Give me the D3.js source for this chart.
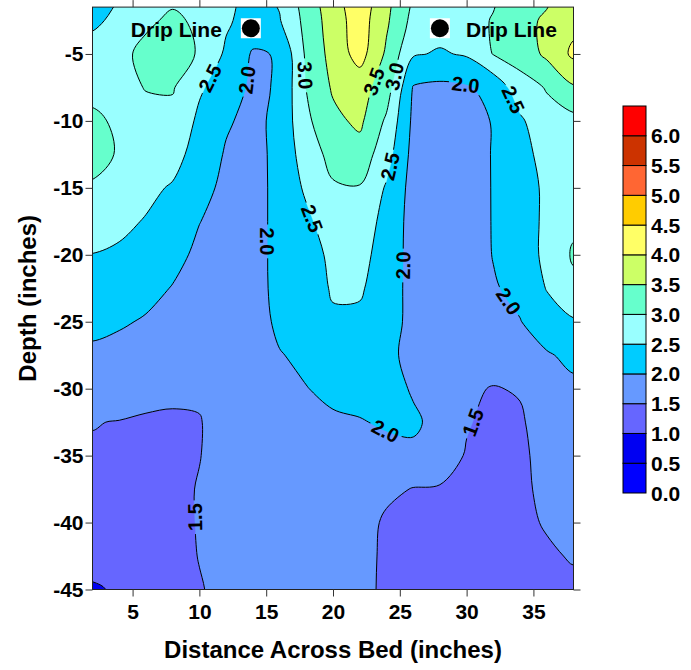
<!DOCTYPE html>
<html><head><meta charset="utf-8">
<script src="https://cdn.jsdelivr.net/npm/d3@7"></script>
<style>body{margin:0;background:#fff}svg{display:block}</style>
</head><body>
<svg id="chart" width="691" height="670"></svg>
<script>
// ---- data (grid of estimated values; columns = distance, rows = depth) ----
const distances = [0,2,4,6,8,10,12,14,16,18,20,22,24,26,28,30,32,34,36,38,40];
const depths = [0,-2.5,-5,-7.5,-10,-12.5,-15,-17.5,-20,-22.5,-25,-27.5,-30,-32.5,-35,-37.5,-40,-42.5,-45,-47.5];
const row_0    = [2.15,2.2,2.45,2.6,2.8,2.75,2.6,2.35,2.6,3.2,3.8,4.3,3.65,2.9,2.75,2.75,2.85,3.3,3.3,3.75,3.75];
const row_2_5  = [2.35,2.42,2.6,2.9,3.1,2.9,2.57,2.3,2.47,3.15,3.75,4.25,3.58,2.85,2.72,2.72,3.05,3.3,3.6,3.85,3.9];
const row_5    = [2.6,2.67,2.85,3.15,3.25,2.95,2.42,1.95,2.03,3.08,3.68,4.2,3.42,2.55,2.45,2.55,3.02,3.2,3.6,4.1,4.15];
const row_7_5  = [2.85,2.88,2.85,3.02,3.04,2.56,2.28,1.9,2.05,3.01,3.56,3.7,3.25,1.97,1.9,1.95,2.15,2.8,3.03,3.45,3.48];
const row_10   = [3.1,3.08,2.93,2.85,2.85,2.41,2.05,1.88,2.12,2.9,3.38,3.6,2.92,1.9,1.8,1.8,2.03,2.42,2.85,2.85,2.85];
const row_12_5 = [3.15,3.12,2.97,2.8,2.7,2.27,1.96,1.86,2.12,2.75,3.15,3.3,2.7,1.85,1.76,1.75,2.03,2.3,2.7,2.8,2.8];
const row_15   = [2.98,2.96,2.85,2.62,2.45,2.14,1.9,1.85,2.12,2.58,2.95,2.97,2.45,1.82,1.75,1.72,2.03,2.25,2.6,2.85,2.85];
const row_17_5 = [2.75,2.73,2.61,2.47,2.29,2.01,1.85,1.85,2.12,2.4,2.78,2.8,2.33,1.82,1.75,1.7,2.03,2.25,2.6,2.9,2.9];
const row_20   = [2.48,2.49,2.43,2.3,2.13,1.91,1.82,1.85,2.12,2.25,2.63,2.65,2.3,1.82,1.75,1.7,2.02,2.22,2.62,3.06,3.08];
const row_22_5 = [2.3,2.31,2.24,2.13,1.98,1.82,1.8,1.84,2.12,2.2,2.56,2.55,2.28,1.82,1.75,1.68,1.95,2.15,2.52,2.88,2.9];
const row_25   = [2.1,2.11,2.05,1.96,1.84,1.74,1.77,1.82,2.08,2.15,2.42,2.42,2.27,1.82,1.75,1.65,1.85,1.98,2.3,2.45,2.45];
const row_27_5 = [1.9,1.92,1.86,1.78,1.7,1.65,1.74,1.8,1.98,2.08,2.25,2.3,2.15,1.82,1.77,1.62,1.7,1.85,1.95,2.12,2.1];
const row_30   = [1.7,1.71,1.67,1.61,1.56,1.56,1.7,1.77,1.9,1.99,2.08,2.18,2.2,1.95,1.8,1.56,1.48,1.53,1.8,1.9,1.88];
const row_32_5 = [1.49,1.51,1.49,1.46,1.46,1.48,1.67,1.73,1.85,1.9,1.95,1.97,2.06,2.08,1.85,1.53,1.4,1.45,1.7,1.8,1.78];
const row_35   = [1.45,1.47,1.46,1.43,1.43,1.49,1.64,1.7,1.8,1.85,1.85,1.88,1.84,1.9,1.7,1.47,1.35,1.43,1.62,1.72,1.7];
const row_37_5 = [1.41,1.43,1.44,1.41,1.41,1.52,1.62,1.67,1.76,1.8,1.8,1.78,1.61,1.48,1.47,1.4,1.3,1.43,1.58,1.65,1.63];
const row_40   = [1.37,1.39,1.41,1.39,1.4,1.52,1.6,1.65,1.73,1.77,1.77,1.72,1.42,1.36,1.35,1.36,1.28,1.42,1.53,1.58,1.56];
const row_42_5 = [1.3,1.33,1.35,1.38,1.39,1.51,1.59,1.63,1.71,1.75,1.75,1.72,1.38,1.3,1.3,1.33,1.25,1.4,1.45,1.53,1.51];
const row_45   = [0.8,0.9,1.1,1.35,1.37,1.48,1.58,1.62,1.69,1.73,1.74,1.72,1.36,1.28,1.27,1.3,1.22,1.38,1.4,1.42,1.4];
const row_47_5 = [0.7,0.8,1.05,1.32,1.35,1.47,1.57,1.6,1.68,1.72,1.73,1.72,1.35,1.27,1.25,1.28,1.2,1.37,1.38,1.38,1.36];

const levels = [0.5,1.0,1.5,2.0,2.5,3.0,3.5,4.0,4.5,5.0,5.5,6.0];
const bandColors = ["#0000ff","#0000f2","#6666ff","#6699ff","#00ccff","#99ffff","#66ffcc","#ccff66","#ffff66","#ffcc00","#ff6633","#cc3300","#ff0000"];
const xTicks = [5,10,15,20,25,30,35];
const yTicks = [-5,-10,-15,-20,-25,-30,-35,-40,-45];
const colorbarTicks = [0,0.5,1,1.5,2,2.5,3,3.5,4,4.5,5,5.5,6];
const dripLines = [13.85, 28];
const dripDepth = -3.08;
const labelValues = [2.5,2.0,3.0,3.5,3.0,2.0,2.5,2.5,2.5,2.0,2.0,2.0,2.0,1.5,1.5];
const labelX      = [10.8,13.6,17.9,23.2,24.3,29.9,33.5,23.9,18.4,15.0,25.0,33.25,23.7,30.4,9.8];
const labelY      = [-6.8,-6.95,-6.6,-7.1,-6.6,-7.5,-8.4,-13.3,-17.3,-19.0,-20.8,-23.4,-33.6,-32.5,-39.6];
const labelAngle  = [-65,-80,85,-75,-70,15,60,-75,70,90,-90,50,40,-75,-90];

// ---- layout ----
const W = 691, H = 670;
const FONT = "'Liberation Sans', Arial, Helvetica, sans-serif";
const plot = {left: 92.5, right: 573.5, top: 7.1, bottom: 589.5};
const x = d3.scaleLinear().domain([2, 38]).range([plot.left, plot.right]);
const y = d3.scaleLinear().domain([-1.5, -45]).range([plot.top, plot.bottom]);

const svg = d3.select("#chart");
const defs = svg.append("defs");
defs.append("clipPath").attr("id", "clip").append("rect")
  .attr("x", plot.left).attr("y", plot.top)
  .attr("width", plot.right - plot.left).attr("height", plot.bottom - plot.top);
const mask = defs.append("mask").attr("id", "labelMask").attr("maskUnits", "userSpaceOnUse")
  .attr("x", 0).attr("y", 0).attr("width", W).attr("height", H);
mask.append("rect").attr("width", W).attr("height", H).attr("fill", "white");

// ---- contours ----
const grid = [row_0,row_2_5,row_5,row_7_5,row_10,row_12_5,row_15,row_17_5,row_20,row_22_5,row_25,
              row_27_5,row_30,row_32_5,row_35,row_37_5,row_40,row_42_5,row_45,row_47_5];
const nx = distances.length, ny = depths.length;
const values = grid.flat();
const gx = d3.scaleLinear().domain([0.5, nx - 0.5]).range([distances[0], distances[nx - 1]]);
const gy = d3.scaleLinear().domain([0.5, ny - 0.5]).range([depths[0], depths[ny - 1]]);
const toPx = p => [x(gx(p[0])), y(gy(p[1]))];
const contours = d3.contours().size([nx, ny]).thresholds(levels)(values);
const lineGen = d3.line().curve(d3.curveCatmullRomClosed.alpha(0.5));
function ringsPx(c) {
  const rings = [];
  c.coordinates.forEach(poly => poly.forEach(ring => rings.push(ring.slice(0, -1).map(toPx))));
  return rings;
}
const ringsByLevel = contours.map(ringsPx);
const pathD = rings => rings.map(r => lineGen(r)).join("");

const fillG = svg.append("g").attr("clip-path", "url(#clip)");
fillG.append("rect").attr("x", plot.left).attr("y", plot.top)
  .attr("width", plot.right - plot.left).attr("height", plot.bottom - plot.top)
  .attr("fill", bandColors[0]);
ringsByLevel.forEach((rings, i) => {
  if (!rings.length) return;
  fillG.append("path").attr("d", pathD(rings)).attr("fill", bandColors[i + 1])
    .attr("fill-rule", "evenodd").attr("stroke", bandColors[i + 1]).attr("stroke-width", 0.3);
});
const lineG = svg.append("g").attr("clip-path", "url(#clip)").append("g").attr("mask", "url(#labelMask)");
ringsByLevel.forEach(rings => {
  if (!rings.length) return;
  lineG.append("path").attr("d", pathD(rings)).attr("fill", "none")
    .attr("stroke", "#000").attr("stroke-width", 1);
});

// ---- contour labels ----
const labelG = svg.append("g");
labelValues.forEach((v, i) => {
  const li = levels.indexOf(v);
  const rings = ringsByLevel[li] || [];
  const ax = x(labelX[i]), ay = y(labelY[i]);
  let best = null, bd = Infinity;
  rings.forEach(r => {
    const n = r.length;
    for (let k = 0; k < n; k++) {
      const p = r[k], q = r[(k + 1) % n];
      const dx = q[0] - p[0], dy = q[1] - p[1];
      const L2 = dx * dx + dy * dy || 1;
      let t = ((ax - p[0]) * dx + (ay - p[1]) * dy) / L2;
      t = Math.max(0, Math.min(1, t));
      const px = p[0] + t * dx, py = p[1] + t * dy;
      if (px < plot.left + 3 || px > plot.right - 3 || py < plot.top + 3 || py > plot.bottom - 3) continue;
      const d = (px - ax) ** 2 + (py - ay) ** 2;
      if (d < bd) { bd = d; best = {px, py, a: Math.atan2(dy, dx) * 180 / Math.PI}; }
    }
  });
  let cx = ax, cy = ay, ang = labelAngle[i];
  if (best && bd < 28 * 28) {
    cx = best.px; cy = best.py;
    const cands = [best.a, best.a + 180, best.a - 180, best.a + 360, best.a - 360];
    ang = cands.reduce((m, c) => Math.abs(c - labelAngle[i]) < Math.abs(m - labelAngle[i]) ? c : m, cands[0]);
  }
  const tr = `translate(${cx},${cy}) rotate(${ang})`;
  const t = labelG.append("text").attr("transform", tr)
    .attr("text-anchor", "middle").attr("dy", "0.36em")
    .attr("font-family", FONT).attr("font-weight", "bold").attr("font-size", 20)
    .attr("fill", "#000").text(d3.format(".1f")(v));
  const len = t.node().getComputedTextLength();
  mask.append("rect").attr("transform", tr).attr("x", -len / 2 - 3).attr("y", -9)
    .attr("width", len + 6).attr("height", 18).attr("fill", "black");
});

// ---- drip lines ----
dripLines.forEach((d, i) => {
  const cx = x(d), cy = y(dripDepth);
  svg.append("rect").attr("x", cx - 10).attr("y", cy - 10).attr("width", 20).attr("height", 20).attr("fill", "#fff");
  svg.append("circle").attr("cx", cx).attr("cy", cy).attr("r", 9).attr("fill", "#000");
  svg.append("text").attr("x", i === 0 ? cx - 29 : cx + 26).attr("y", cy + 8.5)
    .attr("text-anchor", i === 0 ? "end" : "start")
    .attr("font-family", FONT).attr("font-weight", "bold").attr("font-size", 21)
    .attr("fill", "#000").text("Drip Line");
});

// ---- frame and axes ----
svg.append("rect").attr("x", plot.left).attr("y", plot.top)
  .attr("width", plot.right - plot.left).attr("height", plot.bottom - plot.top)
  .attr("fill", "none").attr("stroke", "#222").attr("stroke-width", 1);

function styleAxis(g) {
  g.select(".domain").remove();
  g.selectAll(".tick line").attr("stroke", "#333");
  g.selectAll(".tick text").attr("font-family", FONT).attr("font-weight", "bold")
    .attr("font-size", 21).attr("fill", "#000");
}
svg.append("g").attr("transform", `translate(0,${plot.bottom})`)
  .call(d3.axisBottom(x).tickValues(xTicks).tickSize(7).tickPadding(8).tickFormat(d => String(d)))
  .call(styleAxis);
svg.append("g").attr("transform", `translate(0,${plot.top})`)
  .call(d3.axisTop(x).tickValues(xTicks).tickSize(7).tickFormat(""))
  .call(styleAxis);
svg.append("g").attr("transform", `translate(${plot.left},0)`)
  .call(d3.axisLeft(y).tickValues(yTicks).tickSize(7).tickPadding(2).tickFormat(d => String(d)))
  .call(styleAxis);
svg.append("g").attr("transform", `translate(${plot.right},0)`)
  .call(d3.axisRight(y).tickValues(yTicks).tickSize(7).tickFormat(""))
  .call(styleAxis);

svg.append("text").attr("x", (plot.left + plot.right) / 2).attr("y", 658)
  .attr("text-anchor", "middle").attr("font-family", FONT).attr("font-weight", "bold")
  .attr("font-size", 24).attr("fill", "#000").text("Distance Across Bed (inches)");
svg.append("text").attr("transform", `translate(36,${(plot.top + plot.bottom) / 2}) rotate(-90)`)
  .attr("text-anchor", "middle").attr("font-family", FONT).attr("font-weight", "bold")
  .attr("font-size", 24).attr("fill", "#000").text("Depth (inches)");

// ---- colour bar ----
const cb = d3.scaleLinear().domain([0, 6.5]).range([493, 106]);
const cbG = svg.append("g");
bandColors.forEach((c, i) => {
  cbG.append("rect").attr("x", 623).attr("y", cb((i + 1) * 0.5))
    .attr("width", 23).attr("height", cb(i * 0.5) - cb((i + 1) * 0.5))
    .attr("fill", c).attr("stroke", "#000").attr("stroke-width", 1);
});
colorbarTicks.forEach(v => {
  cbG.append("text").attr("x", 651).attr("y", cb(v)).attr("dy", "0.36em")
    .attr("font-family", FONT).attr("font-weight", "bold").attr("font-size", 21)
    .attr("fill", "#000").text(d3.format(".1f")(v));
});
</script>
</body></html>
